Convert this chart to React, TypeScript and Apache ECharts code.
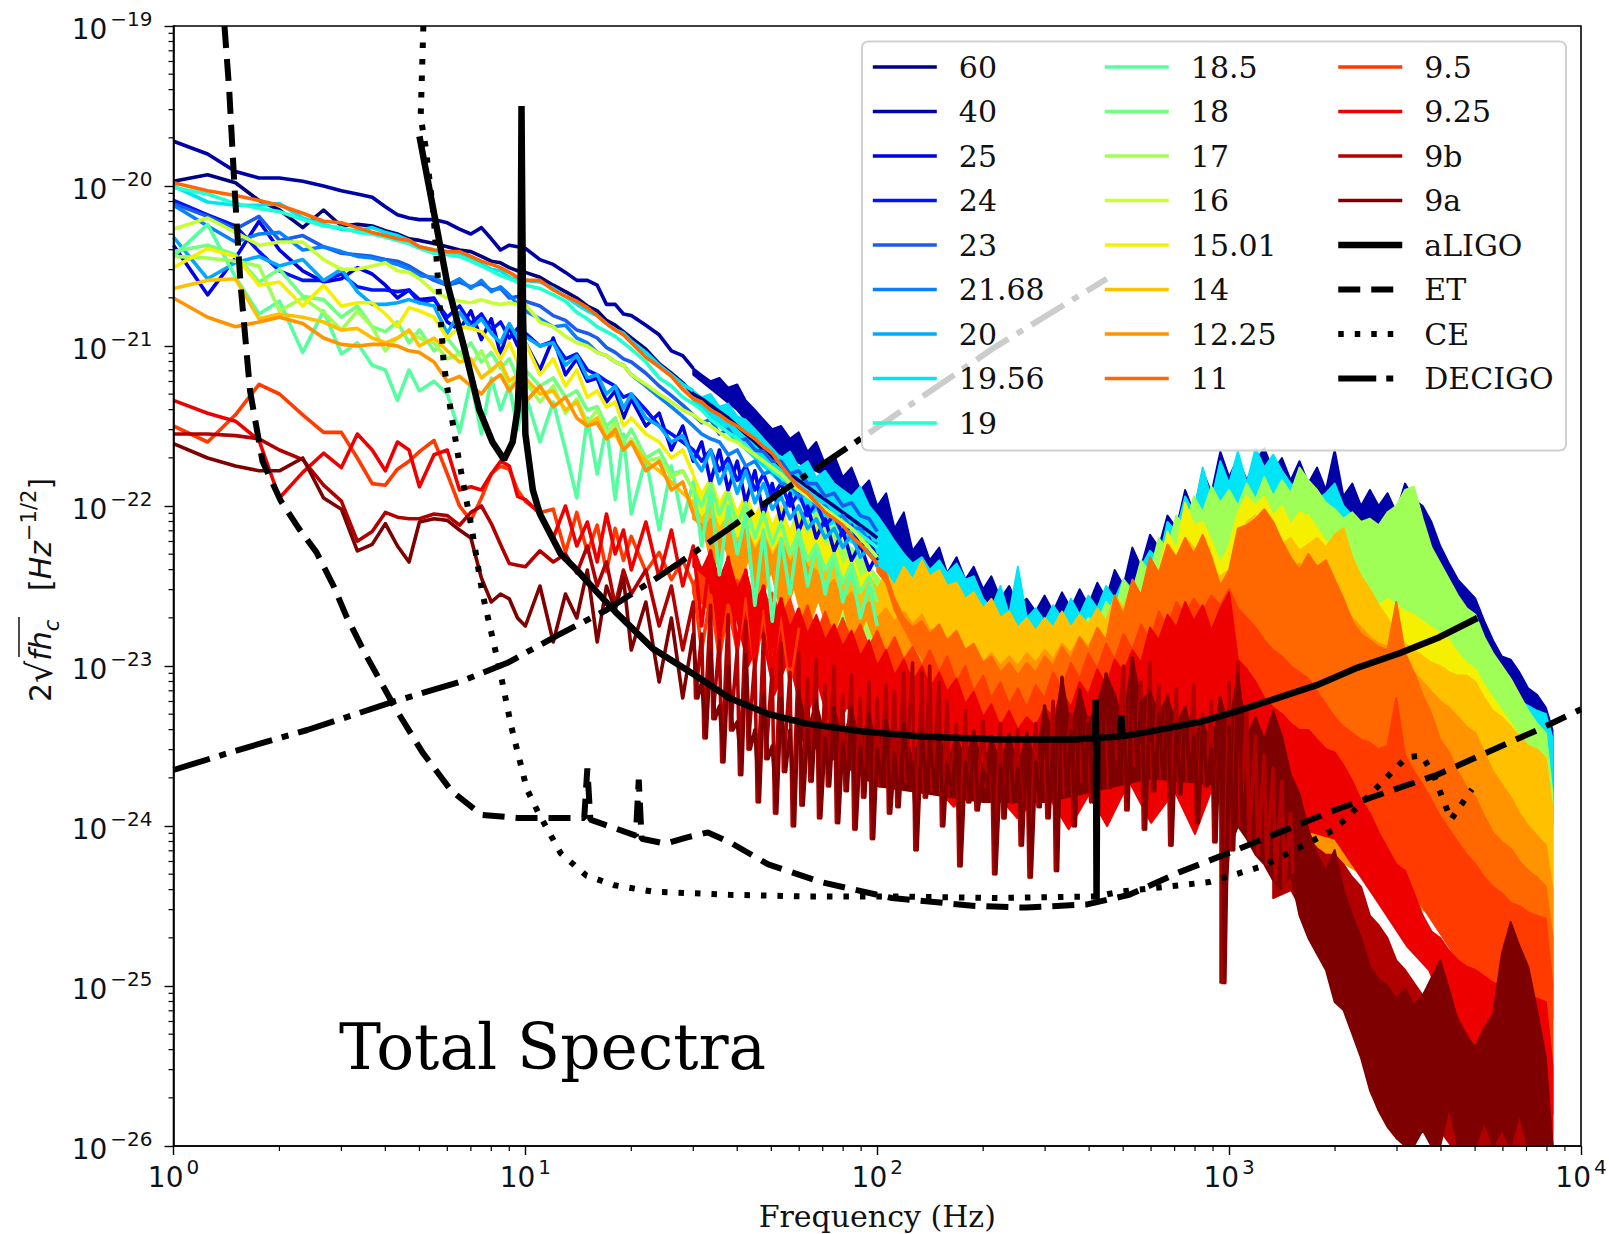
import React, { useEffect, useRef } from "react";
import * as echarts from "echarts";

// All strain values are written as hundredths of a decade below 1: 2039 means 10^-20.39.
const freqLF = [1,1.25,1.5,1.75,2,2.33,2.67,3,3.33,3.67,4,4.33,4.67,5,5.5,6,6.5,7,7.5,8,8.5,9,9.5,10,11,12,13,14,15,16,17,18,19,20,22,24,26,28,30];
const freqHF = [30,31.7,33.6,35.6,37.7,40,42.3,44.9,47.5,50.3,53.3,56.5,59.8,63.4,67.1,71.1,75.4,79.8,84.5,89.5,94.8,100,106,112,119,126,134,141,150,158,168,178,188,200,211,224,237,251,266,282,299,316,335,355,376,398,422,447,473,501,531,562,596,631,668,708,750,794,841,891,944,1000,1059,1122,1189,1259,1334,1413,1496,1585,1679,1778,1884,1995,2113,2239,2371,2512,2661,2818,2985,3162,3350,3548,3758,3981,4217,4467,4732,5012,5309,5623,5957,6310,6683,7079,7499,7943,8300];

const lf60 = [1997,1993,1998,2009,2015,2026,2015,2025,2024,2025,2028,2030,2033,2034,2036,2038,2040,2041,2044,2047,2048,2051,2053,2054,2057,2062,2066,2070,2075,2078,2084,2087,2091,2095,2102,2111,2117,2123,2130];
const ext60 = [2133,2137,2141,2145,2150,2155,2160,2165,2170,2175,2180,2184,2188,2192,2196,2200,2204,2208,2212,2216,2220];
const lf40 = [1972,1980,1991,1995,1995,1997,2000,2003,2005,2007,2013,2018,2020,2021,2021,2023,2027,2030,2026,2033,2040,2037,2038,2039,2046,2049,2054,2059,2059,2062,2074,2074,2080,2081,2087,2093,2103,2106,2114];
const lf25 = [2037,2068,2045,2022,2040,2053,2060,2058,2051,2055,2062,2070,2065,2071,2070,2085,2090,2078,2096,2083,2105,2088,2100,2098,2115,2095,2118,2108,2122,2120,2135,2128,2145,2133,2150,2142,2165,2150,2172];
const ext25 = [2160,2185,2165,2190,2172,2198,2178,2206,2186,2210,2192,2216,2200,2220,2208,2228,2215,2234,2224,2240,2230];
const lf24 = [2009,2018,2025,2041,2053,2059,2059,2055,2063,2065,2065,2066,2065,2073,2071,2082,2075,2086,2080,2090,2085,2095,2089,2092,2100,2097,2108,2105,2115,2118,2122,2125,2132,2130,2140,2150,2155,2160,2165];
const ext24 = [2172,2165,2178,2170,2184,2175,2190,2180,2194,2186,2200,2192,2206,2198,2212,2206,2218,2212,2226,2220,2234];
const lf23 = [2011,2019,2027,2019,2034,2031,2038,2042,2043,2044,2046,2047,2050,2054,2059,2062,2060,2063,2061,2065,2064,2070,2069,2072,2075,2081,2084,2090,2092,2095,2101,2104,2108,2110,2117,2125,2131,2137,2143];
const ext23 = [2148,2146,2155,2152,2160,2158,2165,2166,2172,2172,2180,2178,2186,2186,2194,2192,2200,2198,2206,2208,2216];
const lf2168 = [2012,2025,2035,2030,2029,2040,2038,2041,2044,2045,2047,2049,2052,2056,2057,2062,2058,2064,2059,2066,2063,2068,2074,2078,2083,2088,2087,2095,2098,2104,2106,2110,2112,2118,2125,2132,2138,2144,2150];
const ext2168 = [2155,2158,2160,2168,2165,2175,2172,2180,2178,2186,2186,2194,2192,2200,2200,2208,2206,2214,2214,2222,2224];
const lf20 = [2032,2058,2048,2044,2050,2046,2059,2052,2066,2074,2074,2073,2071,2073,2075,2092,2079,2089,2083,2092,2098,2086,2095,2094,2100,2098,2112,2106,2120,2118,2130,2125,2139,2130,2145,2150,2160,2156,2170];
const ext20 = [2178,2165,2186,2174,2192,2178,2198,2186,2202,2194,2208,2200,2214,2208,2220,2214,2226,2218,2232,2226,2238];
const lf1956 = [2000,2010,2012,2012,2011,2020,2024,2027,2028,2026,2029,2031,2034,2038,2040,2042,2042,2045,2049,2052,2053,2057,2059,2059,2060,2064,2069,2074,2078,2081,2086,2090,2092,2097,2104,2112,2118,2124,2128];
const lf19 = [2001,2005,2011,2014,2016,2021,2025,2026,2029,2030,2032,2034,2036,2039,2042,2043,2044,2047,2050,2053,2056,2058,2060,2062,2064,2068,2072,2079,2083,2088,2091,2094,2098,2102,2110,2120,2125,2132,2136];
const ext19 = [2140,2146,2150,2154,2158,2162,2168,2172,2178,2182,2186,2190,2194,2198,2202,2206,2210,2214,2218,2222,2226];
const lf185 = [2044,2024,2057,2080,2072,2104,2078,2105,2098,2112,2115,2134,2115,2128,2122,2130,2154,2122,2155,2120,2140,2125,2152,2130,2160,2135,2165,2195,2145,2180,2150,2196,2155,2205,2170,2215,2175,2210,2185];
const ext185 = [2225,2190,2243,2200,2230,2205,2262,2215,2272,2220,2255,2215,2250,2225,2255,2230,2260,2240,2270,2250,2275];
const lf18 = [2041,2037,2043,2060,2052,2069,2071,2082,2075,2088,2091,2085,2098,2090,2103,2095,2105,2098,2110,2104,2114,2108,2120,2115,2125,2120,2132,2128,2140,2138,2150,2145,2160,2152,2170,2165,2180,2178,2190];
const ext18 = [2200,2186,2205,2192,2212,2198,2220,2204,2224,2210,2230,2216,2234,2224,2240,2230,2248,2236,2254,2244,2260];
const lf17 = [2044,2045,2047,2050,2078,2070,2079,2090,2078,2088,2103,2095,2091,2095,2098,2108,2105,2112,2103,2116,2110,2128,2118,2122,2135,2125,2142,2133,2148,2140,2155,2148,2165,2158,2172,2170,2182,2178,2190];
const lf16 = [2027,2020,2029,2037,2035,2035,2046,2052,2052,2050,2048,2053,2054,2058,2066,2070,2072,2073,2071,2073,2074,2073,2074,2074,2085,2088,2094,2098,2100,2104,2106,2110,2112,2118,2124,2130,2135,2140,2143];
const ext16 = [2147,2150,2154,2158,2160,2164,2168,2172,2176,2180,2186,2190,2194,2198,2202,2206,2210,2214,2220,2226,2232];
const lf1501 = [2051,2039,2044,2062,2060,2075,2062,2075,2073,2073,2080,2088,2076,2078,2082,2095,2088,2089,2091,2098,2108,2098,2110,2098,2118,2108,2125,2115,2132,2128,2138,2135,2150,2145,2155,2160,2170,2165,2180];
const lf14 = [2064,2059,2058,2083,2080,2082,2085,2090,2089,2095,2098,2095,2090,2100,2095,2103,2110,2108,2120,2115,2110,2122,2118,2120,2130,2128,2140,2135,2150,2145,2158,2155,2165,2160,2172,2178,2185,2192,2198];
const lf1225 = [2070,2082,2088,2085,2082,2086,2095,2099,2100,2099,2099,2100,2103,2104,2110,2122,2119,2125,2130,2122,2118,2128,2122,2135,2125,2138,2132,2145,2150,2148,2158,2152,2165,2160,2178,2172,2190,2185,2205];
const lf11 = [1998,2003,2006,2009,2012,2017,2022,2023,2026,2029,2031,2033,2034,2038,2040,2041,2041,2044,2047,2049,2051,2054,2057,2059,2059,2065,2069,2072,2076,2081,2086,2090,2093,2098,2107,2113,2119,2127,2133];
const ext11 = [2135,2140,2143,2147,2150,2154,2158,2163,2167,2175,2182,2188,2192,2198,2204,2208,2212,2219,2224,2230,2236];
const lf95 = [2150,2160,2143,2124,2130,2143,2154,2154,2170,2186,2187,2177,2172,2166,2159,2180,2200,2209,2195,2180,2175,2177,2190,2197,2204,2202,2229,2204,2229,2212,2241,2214,2234,2219,2241,2229,2246,2234,2249];
const ext95 = [2290,2256,2295,2262,2290,2258,2300,2266,2300,2270,2310,2276];
const lf925 = [2134,2142,2147,2159,2195,2179,2167,2176,2155,2165,2178,2160,2165,2188,2168,2165,2190,2188,2190,2180,2172,2175,2194,2196,2205,2220,2200,2225,2210,2235,2205,2230,2215,2240,2210,2245,2215,2250,2225];
const ext925 = [2275,2228,2285,2232,2290,2240,2300,2250,2305,2258,2300,2264];
const lf9b = [2155,2155,2156,2158,2165,2171,2187,2197,2222,2216,2204,2207,2208,2208,2205,2206,2212,2204,2200,2211,2224,2236,2237,2238,2228,2235,2230,2242,2225,2250,2235,2262,2240,2255,2240,2275,2250,2290,2260];
const lf9a = [2161,2170,2175,2178,2178,2170,2195,2202,2228,2224,2211,2225,2235,2210,2208,2209,2215,2220,2245,2260,2255,2258,2270,2275,2250,2285,2255,2270,2240,2285,2250,2265,2245,2290,2260,2310,2270,2320,2280];

const hi40 = [2114,2118,2122,2120,2126,2124,2134,2140,2146,2152,2150,2158,2154,2166,2160,2174,2168,2182,2176,2190,2184,2200,2192,2214,2204,2228,2220,2234,2226,2242,2232,2246,2238,2252,2244,2258,2250,2262,2258,2266,2256,2266,2254,2264,2252,2262,2248,2258,2240,2250,2226,2238,2218,2226,2206,2214,2190,2204,2178,2192,2166,2182,2170,2184,2172,2164,2178,2170,2184,2172,2186,2176,2190,2165,2194,2186,2200,2190,2200,2192,2204,2186,2196,2200,2210,2225,2236,2246,2252,2258,2272,2284,2294,2296,2304,2314,2318,2326,2340];
const hi1956 = [2128,2132,2130,2138,2136,2144,2146,2152,2158,2164,2170,2166,2176,2172,2182,2178,2186,2190,2194,2188,2200,2206,2214,2222,2230,2236,2232,2240,2234,2242,2236,2246,2244,2258,2264,2250,2268,2238,2270,2264,2272,2262,2270,2258,2268,2256,2264,2250,2258,2246,2252,2238,2228,2234,2210,2216,2194,2204,2176,2196,2172,2186,2166,2186,2164,2176,2168,2178,2186,2190,2188,2196,2192,2186,2200,2206,2214,2208,2218,2210,2216,2225,2230,2240,2250,2260,2268,2278,2285,2290,2300,2310,2316,2312,2322,2325,2328,2330,2345];
const hi17 = [2190,2198,2188,2204,2192,2208,2198,2214,2204,2220,2206,2216,2200,2210,2204,2214,2212,2222,2226,2232,2238,2244,2250,2256,2258,2262,2266,2262,2270,2264,2274,2268,2278,2272,2282,2276,2284,2278,2288,2280,2290,2280,2286,2276,2280,2270,2274,2260,2266,2246,2254,2234,2242,2220,2228,2206,2214,2194,2204,2188,2198,2190,2200,2186,2196,2182,2194,2184,2192,2176,2184,2190,2198,2202,2208,2204,2210,2208,2212,2204,2200,2190,2188,2208,2226,2236,2246,2256,2264,2268,2282,2292,2300,2308,2318,2328,2336,2342,2380];
const hi1501 = [2180,2192,2182,2198,2188,2204,2192,2206,2196,2212,2200,2216,2206,2220,2210,2226,2222,2238,2230,2246,2240,2256,2250,2266,2260,2276,2268,2284,2276,2292,2284,2296,2290,2300,2292,2304,2296,2306,2298,2304,2296,2302,2290,2298,2284,2292,2278,2288,2266,2278,2260,2272,2250,2240,2216,2228,2198,2212,2210,2222,2236,2225,2204,2194,2200,2194,2206,2200,2212,2204,2206,2214,2222,2228,2240,2246,2254,2258,2262,2258,2262,2266,2268,2272,2276,2280,2284,2292,2298,2302,2312,2320,2328,2336,2344,2352,2358,2366,2400];
const hi14 = [2198,2208,2200,2214,2206,2222,2212,2226,2216,2230,2220,2232,2224,2236,2226,2240,2232,2248,2240,2254,2244,2252,2242,2250,2238,2246,2234,2244,2240,2250,2248,2258,2254,2264,2258,2270,2266,2276,2270,2278,2270,2276,2266,2276,2268,2274,2264,2272,2256,2264,2248,2256,2236,2244,2226,2234,2220,2226,2228,2240,2244,2240,2226,2210,2206,2212,2216,2224,2220,2228,2224,2220,2226,2218,2214,2232,2244,2252,2262,2270,2280,2286,2290,2294,2298,2300,2304,2306,2306,2310,2320,2328,2332,2338,2344,2350,2352,2358,2390];
const hi1225 = [2205,2216,2208,2220,2212,2224,2214,2228,2218,2232,2222,2236,2226,2238,2240,2252,2246,2260,2254,2266,2260,2270,2264,2272,2266,2274,2268,2278,2276,2286,2284,2294,2288,2298,2292,2300,2294,2300,2292,2298,2290,2296,2286,2292,2282,2288,2278,2284,2270,2278,2262,2270,2254,2262,2246,2254,2240,2246,2236,2244,2250,2260,2230,2218,2222,2216,2226,2232,2240,2236,2240,2248,2250,2258,2264,2270,2276,2282,2286,2288,2290,2296,2304,2310,2316,2322,2326,2332,2338,2342,2354,2366,2374,2382,2392,2400,2406,2412,2440];
const hi11 = [2238,2242,2258,2270,2276,2272,2280,2274,2284,2278,2290,2286,2298,2294,2304,2298,2306,2298,2304,2294,2300,2288,2296,2282,2290,2276,2284,2256,2268,2246,2256,2232,2242,2224,2232,2220,2230,2218,2232,2250,2240,2214,2212,2208,2202,2210,2222,2232,2240,2230,2238,2234,2246,2258,2272,2280,2284,2288,2290,2260,2292,2304,2318,2330,2346,2354,2366,2376,2382,2394,2404,2410,2414,2422,2428,2432,2438,2470];
const hi95 = [2249,2238,2256,2242,2262,2246,2258,2250,2266,2254,2270,2258,2276,2262,2280,2266,2282,2270,2284,2274,2288,2278,2292,2282,2296,2288,2300,2290,2304,2294,2310,2300,2316,2306,2320,2310,2324,2314,2326,2312,2320,2304,2314,2298,2308,2292,2302,2286,2296,2280,2290,2274,2284,2266,2276,2260,2268,2258,2266,2256,2262,2252,2264,2270,2276,2284,2290,2294,2300,2304,2308,2316,2324,2332,2338,2342,2346,2348,2352,2350,2320,2356,2366,2374,2384,2394,2402,2410,2418,2424,2432,2438,2442,2448,2450,2454,2456,2458,2500];
const hi925 = [2225,2240,2228,2246,2232,2252,2240,2262,2250,2270,2258,2276,2264,2280,2268,2284,2274,2288,2278,2294,2284,2300,2290,2306,2296,2310,2300,2314,2304,2316,2308,2324,2316,2332,2324,2338,2328,2340,2332,2338,2326,2332,2316,2326,2310,2318,2302,2312,2296,2304,2290,2298,2276,2284,2268,2276,2260,2272,2262,2278,2264,2254,2296,2302,2310,2320,2326,2330,2336,2340,2340,2346,2352,2354,2362,2372,2384,2392,2404,2414,2424,2428,2442,2456,2466,2470,2478,2484,2488,2490,2494,2498,2500,2500,2504,2506,2508,2510,2550];
const hi9b = [2260,2280,2262,2284,2268,2290,2272,2296,2280,2302,2286,2304,2292,2308,2296,2312,2300,2318,2306,2320,2310,2320,2312,2316,2304,2298,2304,2300,2310,2322,2336,2328,2342,2334,2346,2336,2350,2340,2348,2336,2340,2322,2310,2330,2318,2332,2322,2318,2326,2300,2296,2310,2298,2312,2318,2314,2326,2312,2330,2322,2336,2310,2298,2326,2344,2356,2364,2372,2392,2402,2408,2414,2418,2418,2424,2432,2438,2456,2462,2470,2484,2490,2498,2506,2498,2500,2508,2520,2530,2540,2544,2530,2510,2500,2512,2526,2540,2560,2600];
const hi9a = [2280,2310,2290,2325,2300,2335,2293,2340,2318,2350,2320,2340,2316,2340,2322,2345,2326,2348,2326,2350,2330,2352,2334,2355,2336,2360,2340,2345,2342,2362,2344,2360,2341,2365,2344,2362,2343,2364,2342,2360,2325,2345,2307,2340,2315,2336,2324,2305,2318,2335,2295,2322,2316,2330,2320,2336,2326,2344,2334,2352,2320,2338,2305,2345,2332,2346,2328,2344,2368,2380,2402,2418,2428,2415,2440,2456,2470,2488,2496,2500,2508,2502,2512,2506,2495,2484,2502,2522,2532,2538,2526,2518,2480,2460,2475,2488,2515,2545,2600];
const lo9a = [2320,2345,2333,2360,2340,2368,2352,2385,2358,2392,2366,2400,2387,2372,2395,2375,2398,2378,2402,2382,2408,2375,2392,2388,2372,2415,2382,2378,2400,2380,2425,2385,2390,2375,2430,2395,2385,2412,2432,2388,2395,2428,2380,2400,2372,2385,2360,2376,2358,2390,2362,2402,2378,2370,2412,2380,2372,2398,2375,2410,2498,2415,2400,2408,2418,2424,2434,2440,2430,2456,2470,2480,2490,2510,2515,2530,2545,2565,2578,2588,2595,2600,2600,2590,2600,2600,2575,2600,2600,2600,2585,2600,2590,2600,2580,2600,2600,2600,2600];

// Lower edges of the filled spectra: [frequency, strain in hundredths of a decade].
const lo40 = [[8300,2400],[2000,2300],[500,2300],[200,2290],[120,2260],[94,2210],[70,2180],[50,2165],[40,2140],[30,2118]];
const lo1956 = [[8300,2400],[500,2300],[200,2290],[120,2260],[94,2230],[70,2210],[50,2180],[40,2160],[30,2135]];
const lo17 = [[8300,2450],[500,2320],[200,2310],[100,2290],[70,2262],[50,2240],[40,2228],[35,2215],[30,2195]];
const loWarm = [[8300,2500],[2000,2420],[1000,2380],[500,2350],[300,2345],[200,2335],[150,2315],[100,2288],[93,2270],[86,2290],[80,2262],[74,2285],[68,2258],[63,2280],[58,2250],[54,2272],[50,2240],[46,2265],[43,2232],[40,2255],[37,2225],[34,2240],[32,2212],[30,2208]];
const lo11 = [[8300,2520],[4000,2450],[2000,2400],[1000,2380],[400,2350],[200,2335],[150,2310],[125,2285],[112,2265],[106,2248],[100,2241]];
const lo95 = [[8300,2580],[5000,2500],[2500,2400],[1000,2380],[400,2360],[200,2360],[100,2335],[90,2310],[82,2325],[75,2300],[68,2312],[62,2285],[56,2300],[50,2272],[45,2288],[40,2262],[35,2270],[30,2255]];
const lo925 = [[8300,2650],[6000,2600],[4200,2520],[3700,2490],[3200,2475],[2600,2445],[2000,2408],[1500,2400],[1000,2400],[900,2375],[800,2405],[700,2378],[600,2398],[520,2372],[450,2400],[400,2380],[350,2402],[300,2378],[250,2395],[200,2370],[165,2388],[130,2362],[110,2378],[90,2342],[82,2325],[75,2345],[68,2312],[62,2335],[56,2295],[51,2318],[47,2280],[43,2300],[39,2262],[36,2285],[33,2245],[30,2238]];
const lo9b = [[8300,2650],[5000,2620],[2500,2530],[1500,2440],[1334,2445]];
const lo9aCore = [[1000,2375],[600,2370],[300,2385],[200,2385],[100,2375],[59.8,2345]];

const aligoCurve = [[5,1969],[5.5,2017],[6,2061],[6.7,2101],[7.4,2140],[8.06,2160],[8.7,2171],[9.2,2160],[9.5,2140],[9.67,2106],[9.75,1950],[9.85,2081],[10,2155],[10.5,2190],[11,2205],[12.6,2230],[14,2240],[16,2254],[18,2266],[23,2289],[30,2305],[38,2320],[49,2330],[63,2336],[91,2341],[133,2344],[220,2346],[365,2346],[416,2345],[418,2321],[420,2446],[422,2345],[490,2344],[494,2331],[497,2344],[595,2341],[825,2335],[1030,2329],[1773,2312],[2320,2301],[3050,2292],[3960,2282],[5080,2270]];
const etCurve = [[1.396,1900],[1.44,1940],[1.49,2000],[1.55,2061],[1.65,2128],[1.79,2172],[2.02,2197],[2.27,2214],[2.55,2229],[2.85,2250],[3.1,2269],[3.5,2292],[4.26,2326],[5.1,2354],[6.16,2378],[7.5,2393],[9.5,2395],[14.7,2395],[15,2364],[15.3,2396],[20.6,2406],[21,2371],[21.4,2408],[25,2411],[29,2407],[33,2404],[38,2410],[49,2424],[69,2435],[110,2445],[190,2450],[265,2451],[395,2449],[520,2443],[720,2429],[1020,2416],[2000,2390],[3900,2368],[7700,2339],[10000,2327]];
const ceCurve = [[5.13,1900],[5.04,1957],[5.2,1975],[5.48,2017],[5.86,2111],[6.16,2143],[6.48,2172],[7.04,2214],[7.54,2254],[8.47,2303],[9.1,2337],[10.1,2377],[10.9,2392],[12.6,2417],[14.9,2431],[17.9,2437],[23,2441],[38,2443],[63,2444],[104,2444],[220,2445],[420,2444],[493,2441],[880,2435],[1250,2425],[2000,2402],[2525,2380],[3190,2357],[3540,2356],[3840,2370],[4270,2396],[4900,2377]];
const decigoCurve = [[1,2365],[1.5,2353],[2.4,2340],[4.26,2322],[6.5,2310],[8.9,2298],[12.3,2281],[17,2265],[24.4,2243],[38,2214],[52.7,2192],[71,2173],[83,2163],[215,2101],[449,2058]];

const colors: Record<string, string> = {
  "60": "#00007f", "40": "#0000a8", "25": "#0000e0", "24": "#0012ff", "23": "#1a5cf0", "21.68": "#0a80ff",
  "20": "#00a8ff", "19.56": "#00e4f8", "19": "#22ffd0", "18.5": "#55ffa0", "18": "#70ff80", "17": "#a0ff56",
  "16": "#c8ff30", "15.01": "#f5f000", "14": "#ffc000", "12.25": "#ff9400", "11": "#ff6800", "9.5": "#ff3b00",
  "9.25": "#ee0000", "9b": "#b20000", "9a": "#7f0000",
};
const legendColumns = [
  ["60", "40", "25", "24", "23", "21.68", "20", "19.56", "19"],
  ["18.5", "18", "17", "16", "15.01", "14", "12.25", "11"],
  ["9.5", "9.25", "9b", "9a", "aLIGO", "ET", "CE", "DECIGO"],
];

// The y axis runs in units of 1e-30, because the log scale rounds its ticks to 10 decimals.
const toY = (e: number) => Math.pow(10, 30 - e / 100);
const SERIF = "DejaVu Serif";
const SANS = "'DejaVu Sans'";

function pairs(fr: number[], vals: number[]) {
  const out: number[][] = [];
  vals.forEach((v, i) => { if (fr[i] !== undefined) out.push([fr[i], toY(v)]); });
  return out;
}
const extFreq = freqLF.concat(freqHF.slice(1, 22));

function line(name: string, lf: number[], ext: number[] = [], more: number[][] = []) {
  return {
    type: "line", name, data: pairs(extFreq, lf.concat(ext)).concat(more), showSymbol: false, symbol: "none",
    lineStyle: { color: colors[name], width: 3.6, join: "round" }, itemStyle: { color: colors[name] }, silent: true,
  };
}
// Dense part of a spectrum: the trace runs down from its upper value to its lower value at each step.
function sawtooth(hi: number[], lo: number[], count: number, shift: number) {
  const out: number[][] = [];
  for (let i = 0; i < count; i++) {
    out.push([freqHF[i], toY(hi[i])]);
    out.push([freqHF[i] * shift, toY(lo[i])]);
  }
  return out;
}
function curve(name: string, c: number[][], width: number, dash: any) {
  return {
    type: "line", name, data: c.map(([f, e]) => [f, toY(e)]), showSymbol: false, symbol: "none", z: 3,
    lineStyle: { color: "#000", width, type: dash, cap: "butt" }, itemStyle: { color: "#000" }, silent: true,
  };
}
function band(name: string, hi: number[], lo: number[][], start?: number) {
  const fr = freqHF.slice(start === undefined ? freqHF.length - hi.length : start);
  const pts = pairs(fr, hi).concat(lo.map(([f, e]) => [f, toY(e)]));
  return {
    type: "custom", name: name + " spectrum", data: pts, encode: { x: 0, y: 1 }, clip: true, silent: true,
    renderItem(params: any, api: any) {
      if (params.dataIndex !== 0) return undefined as any;
      return {
        type: "polygon",
        shape: { points: pts.map((p) => api.coord(p)) },
        style: { fill: colors[name], stroke: colors[name], lineWidth: 2, lineJoin: "round" },
      };
    },
  };
}
const minorValues = (from: number, to: number) => {
  const out: number[] = [];
  for (let d = from; d < to; d++) for (let m = 2; m < 10; m++) out.push(m * Math.pow(10, d));
  return out;
};
function minorTicks() {
  const xs = minorValues(0, 4), ys = minorValues(4, 11);
  return [
    {
      type: "custom", name: "x minor ticks", data: xs.map((v) => [v, 1e4]), encode: { x: 0, y: 1 }, clip: false, silent: true, z: 6,
      renderItem(_p: any, api: any) {
        const c = api.coord([api.value(0), api.value(1)]);
        return { type: "line", shape: { x1: c[0], y1: c[1], x2: c[0], y2: c[1] + 5 }, style: { stroke: "#000", lineWidth: 1.2 } };
      },
    },
    {
      type: "custom", name: "y minor ticks", data: ys.map((v) => [1, v]), encode: { x: 0, y: 1 }, clip: false, silent: true, z: 6,
      renderItem(_p: any, api: any) {
        const c = api.coord([api.value(0), api.value(1)]);
        return { type: "line", shape: { x1: c[0] - 5, y1: c[1], x2: c[0], y2: c[1] }, style: { stroke: "#000", lineWidth: 1.2 } };
      },
    },
  ];
}
const expLabel = (exp: number) => "{base|10}{sup|" + String(exp).replace("-", "\u2212") + "}";
const richTick = {
  base: { fontFamily: SANS, fontSize: 28, color: "#111", lineHeight: 34, verticalAlign: "bottom" },
  sup: { fontFamily: SANS, fontSize: 20, color: "#111", lineHeight: 34, verticalAlign: "top", padding: [0, 0, 0, 3] },
};

export default function App() {
  const ref = useRef<HTMLDivElement>(null);
  useEffect(() => {
    const chart = echarts.init(ref.current!, undefined, { renderer: "svg" });
    const series: any[] = [
      line("60", lf60, ext60),
      line("40", lf40), band("40", hi40, lo40),
      line("25", lf25, ext25), line("24", lf24, ext24), line("23", lf23, ext23),
      line("21.68", lf2168, ext2168), line("20", lf20, ext20),
      line("19.56", lf1956), band("19.56", hi1956, lo1956),
      line("19", lf19, ext19), line("18.5", lf185, ext185), line("18", lf18, ext18),
      line("17", lf17), band("17", hi17, lo17),
      line("16", lf16, ext16),
      line("15.01", lf1501), band("15.01", hi1501, loWarm),
      line("14", lf14), band("14", hi14, loWarm),
      line("12.25", lf1225), band("12.25", hi1225, loWarm),
      line("11", lf11, ext11), band("11", hi11, lo11),
      line("9.5", lf95, ext95), band("9.5", hi95, lo95),
      line("9.25", lf925, ext925), band("9.25", hi925, lo925),
      line("9b", lf9b, [], sawtooth(hi9b, lo9a, 69, 1.015)), band("9b", hi9b.slice(66), lo9b),
      line("9a", lf9a, [], sawtooth(hi9a, lo9a, 63, 1.03)),
      band("9a", hi9a.slice(12, 62), lo9aCore, 12),
      band("9a", hi9a.slice(60), freqHF.slice(60).map((f, i) => [f, lo9a[60 + i]]).reverse()),
      curve("aLIGO", aligoCurve, 6.5, "solid"),
      curve("ET", etCurve, 6, [22, 11]),
      curve("CE", ceCurve, 6, [5.5, 11]),
      curve("DECIGO", decigoCurve, 6, [38, 10, 7, 10]),
      ...minorTicks(),
    ];
    const legendX = [871, 1103, 1335];
    chart.setOption({
      animation: false,
      backgroundColor: "#fff",
      grid: { left: 173.5, right: 28, top: 26, bottom: 88, show: true, borderColor: "#000", borderWidth: 1.6, z: 5, outerBoundsMode: "none" },
      xAxis: {
        type: "log", logBase: 10, min: 1, max: 10000, z: 5,
        splitLine: { show: false }, minorTick: { show: false },
        axisLine: { onZero: false, lineStyle: { color: "#000", width: 1.6 } },
        axisTick: { length: 9, lineStyle: { color: "#000", width: 1.4 } },
        axisLabel: {
          margin: 11, fontFamily: SANS, fontSize: 28, rich: richTick, showMinLabel: true, showMaxLabel: true, hideOverlap: false,
          formatter: (v: number) => expLabel(Math.round(Math.log10(v))),
        },
        name: "Frequency (Hz)", nameLocation: "middle", nameGap: 55,
        nameTextStyle: { fontFamily: SERIF, fontSize: 30, color: "#111" },
      },
      yAxis: {
        type: "log", logBase: 10, min: 1e4, max: 1e11, z: 5,
        splitLine: { show: false }, minorTick: { show: false },
        axisLine: { onZero: false, lineStyle: { color: "#000", width: 1.6 } },
        axisTick: { length: 9, lineStyle: { color: "#000", width: 1.4 } },
        axisLabel: {
          margin: 21, fontFamily: SANS, fontSize: 28, rich: richTick, showMinLabel: true, showMaxLabel: true, hideOverlap: false,
          formatter: (v: number) => expLabel(Math.round(Math.log10(v)) - 30),
        },
      },
      legend: legendColumns.map((data, i) => ({
        data, left: legendX[i], top: 52, orient: "vertical", padding: 0, selectedMode: false,
        itemWidth: 64, itemHeight: 30, itemGap: 14.5, z: 60,
        itemStyle: { color: "transparent", borderWidth: 0, opacity: 0 },
        lineStyle: { width: "inherit" },
        textStyle: { fontFamily: SERIF, fontSize: 30, color: "#111", padding: [0, 0, 0, 17] },
      })),
      graphic: [
        { type: "rect", z: 50, shape: { x: 862, y: 41.5, width: 704, height: 409, r: 6 }, style: { fill: "rgba(255,255,255,0.8)", stroke: "#d0d0d0", lineWidth: 2 } },
        { type: "text", z: 40, x: 339, y: 1079, style: { text: "Total Spectra", fontFamily: SERIF, fontSize: 63, fill: "#000", textVerticalAlign: "bottom", verticalAlign: "alphabetic" } },
        {
          type: "text", z: 40, x: 40, y: 590, rotation: Math.PI / 2,
          style: {
            text: "{n|2}{r|\u221A}{i|fh}{s|c}{n|   [}{i|Hz}{u|\u22121/2}{n|]}",
            align: "center", verticalAlign: "middle",
            rich: {
              n: { fontFamily: SANS, fontSize: 30, fill: "#111", lineHeight: 44, verticalAlign: "middle" },
              r: { fontFamily: SANS, fontSize: 35, fill: "#111", lineHeight: 44, verticalAlign: "middle" },
              i: { fontFamily: SANS, fontStyle: "italic", fontSize: 30, fill: "#111", lineHeight: 44, verticalAlign: "middle" },
              s: { fontFamily: SANS, fontStyle: "italic", fontSize: 21, fill: "#111", lineHeight: 44, verticalAlign: "bottom" },
              u: { fontFamily: SANS, fontSize: 21, fill: "#111", lineHeight: 44, verticalAlign: "top" },
            },
          },
        },
        { type: "line", z: 40, shape: { x1: 19, y1: 617, x2: 19, y2: 657 }, style: { stroke: "#111", lineWidth: 1.5 } },
      ],
      series,
    });
    return () => chart.dispose();
  }, []);
  return <div ref={ref} style={{ position: "absolute", left: 0, top: 0, width: 1609, height: 1234, background: "#fff" }} />;
}
